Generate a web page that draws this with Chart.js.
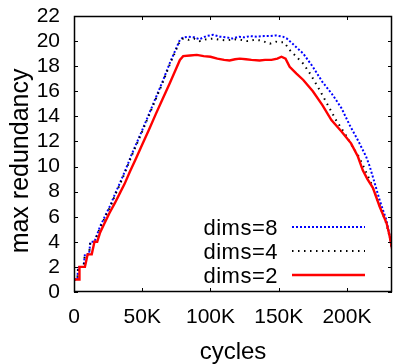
<!DOCTYPE html>
<html>
<head>
<meta charset="utf-8">
<script src="https://cdn.jsdelivr.net/npm/chart.js@4"></script>
<style>
  body { margin: 0; background: #fff; }
  canvas { display: block; }
</style>
</head>
<body>
<canvas id="redChart" width="394" height="364"></canvas>
<script>
// cycles in thousands, values = max redundancy
let dims8X = [0, 2.5, 3, 7, 8, 11, 12, 15, 19, 23, 27, 30, 33.7, 38, 42, 46, 50, 55, 60, 65, 70, 74, 77.6, 80, 84, 88, 92, 97, 102, 107, 112, 116, 121, 125, 129, 134, 139, 143.5, 148, 153, 156, 160, 164, 168, 175, 182, 189.6, 196, 202, 208, 214, 216.7, 220, 224, 229, 231, 233.5];
let dims8Y = [1, 1, 2, 2, 3, 3, 4, 4, 5.2, 6.1, 7.0, 7.8, 8.7, 9.8, 10.9, 11.9, 12.9, 14.2, 15.5, 16.8, 18.2, 19.2, 20.1, 20.3, 20.35, 20.3, 20.15, 20.4, 20.5, 20.35, 20.3, 20.2, 20.35, 20.3, 20.4, 20.35, 20.4, 20.4, 20.45, 20.35, 20.2, 19.8, 19.4, 19.0, 17.95, 16.75, 15.7, 14.65, 13.3, 12.1, 10.8, 10.0, 8.8, 7.3, 5.7, 4.6, 3.2];

let dims4X = [0, 2.5, 3, 7, 8, 11, 12, 15, 19, 23, 27, 30, 33.7, 38, 42, 46, 50, 55, 60, 65, 70, 74, 77.6, 80, 84, 88, 92, 97, 102, 107, 112, 117, 122, 127, 132, 137, 143.5, 148, 151, 154, 158, 163, 168, 173, 180, 186, 192, 198, 204, 208.6, 213, 218, 222.5, 226, 229, 231, 233.5];
let dims4Y = [1, 1, 2, 2, 3, 3, 4, 4, 5.1, 6.0, 6.9, 7.7, 8.6, 9.7, 10.8, 11.8, 12.8, 14.1, 15.4, 16.7, 18.1, 19.1, 20.0, 20.2, 20.1, 20.2, 20.0, 20.15, 20.2, 20.1, 20.05, 20.15, 20.1, 20.0, 20.1, 20.05, 19.8, 19.95, 19.9, 19.9, 19.3, 18.75, 18.2, 17.4, 16.1, 14.9, 13.7, 12.7, 11.6, 10.8, 9.8, 8.6, 7.3, 6.3, 5.4, 4.5, 3.2];

let dims2X = [0, 3.7, 4, 8, 10, 13, 15, 17, 19, 22, 26, 30, 33.7, 37, 41, 45, 50, 55, 60, 65, 70, 74, 77.6, 80, 85, 90, 95, 100, 105, 110, 114, 118, 121.5, 126, 130, 136, 140, 144.7, 149, 152, 155, 158, 163, 168, 175, 182, 188.6, 196, 203, 208, 211.6, 215, 219, 224, 229, 231, 233.5];
let dims2Y = [1, 1, 2, 2, 3, 3, 4, 4, 4.7, 5.4, 6.3, 7.1, 7.9, 8.6, 9.6, 10.55, 11.75, 12.95, 14.2, 15.4, 16.6, 17.6, 18.5, 18.8, 18.85, 18.9, 18.8, 18.75, 18.6, 18.5, 18.45, 18.55, 18.6, 18.55, 18.5, 18.45, 18.5, 18.5, 18.6, 18.75, 18.6, 17.95, 17.4, 16.9, 16.0, 14.9, 13.7, 12.8, 11.85, 10.8, 9.7, 9.0, 8.3, 6.8, 5.5, 4.6, 3.2];

let seriesNames = ["dims=8", "dims=4", "dims=2"];
let yTicks = [0, 2, 4, 6, 8, 10, 12, 14, 16, 18, 20, 22];
let xTicks = [0, 50, 100, 150, 200];

const FONT = "'Liberation Sans', Arial, sans-serif";

function toPoints(xs, ys) {
    return xs.map((x, i) => ({ x: x * 1000, y: ys[i] }));
}

// gnuplot-like frame with inward ticks
const framePlugin = {
    id: "frame",
    afterDatasetsDraw(chart) {
        let ctx = chart.ctx;
        let a = chart.chartArea;
        let xs = chart.scales.x, ys = chart.scales.y;
        ctx.save();
        ctx.strokeStyle = "#000";
        ctx.lineWidth = 1;
        ctx.beginPath();
        xs.ticks.forEach((t, i) => {
            let px = Math.round(xs.getPixelForTick(i)) + 0.5;
            ctx.moveTo(px, a.bottom); ctx.lineTo(px, a.bottom - 4);
            ctx.moveTo(px, a.top); ctx.lineTo(px, a.top + 4);
        });
        ys.ticks.forEach((t, i) => {
            let py = Math.round(ys.getPixelForTick(i)) + 0.5;
            ctx.moveTo(a.left, py); ctx.lineTo(a.left + 4, py);
            ctx.moveTo(a.right, py); ctx.lineTo(a.right - 4, py);
        });
        ctx.stroke();
        ctx.lineWidth = 1.5;
        ctx.strokeRect(a.left + 0.5, a.top + 0.5, a.right - a.left - 1, a.bottom - a.top - 1);
        ctx.restore();
    }
};

// key in the lower right, text then line sample
const keyPlugin = {
    id: "key",
    afterDatasetsDraw(chart) {
        let ctx = chart.ctx;
        let a = chart.chartArea;
        ctx.save();
        ctx.font = "22px " + FONT;
        ctx.letterSpacing = "0.5px";
        ctx.textAlign = "right";
        ctx.textBaseline = "alphabetic";
        ctx.fillStyle = "#000";
        chart.data.datasets.forEach((ds, i) => {
            let y = a.bottom - 65 + i * 24;
            ctx.fillText(ds.label, a.left + 204, y + 7.5);
            ctx.strokeStyle = ds.borderColor;
            ctx.lineWidth = ds.borderWidth;
            ctx.setLineDash(ds.borderDash || []);
            ctx.beginPath();
            ctx.moveTo(a.left + 218, y);
            ctx.lineTo(a.left + 291, y);
            ctx.stroke();
        });
        ctx.restore();
    }
};

let ctx = document.getElementById("redChart").getContext("2d");
let redChart = new Chart(ctx, {
    type: "line",
    data: {
        datasets: [
            {
                label: seriesNames[0],
                data: toPoints(dims8X, dims8Y),
                borderColor: "#0000ff",
                borderWidth: 2,
                borderDash: [2, 2],
                order: 3
            },
            {
                label: seriesNames[1],
                data: toPoints(dims4X, dims4Y),
                borderColor: "#000000",
                borderWidth: 2,
                borderDash: [1.5, 4.5],
                order: 2
            },
            {
                label: seriesNames[2],
                data: toPoints(dims2X, dims2Y),
                borderColor: "#ff0000",
                borderWidth: 2.4,
                order: 1
            }
        ]
    },
    options: {
        responsive: false,
        animation: false,
        layout: { padding: { top: 16, right: 2, left: 0, bottom: 0 } },
        elements: {
            point: { radius: 0 },
            line: { tension: 0, fill: false }
        },
        plugins: {
            legend: { display: false },
            tooltip: { enabled: false }
        },
        scales: {
            x: {
                type: "linear",
                min: 0,
                max: 233000,
                afterFit(scale) { scale.height = 72; scale.paddingLeft = 0; scale.paddingRight = 0; },
                afterBuildTicks(scale) {
                    scale.ticks = xTicks.map(v => ({ value: v * 1000 }));
                },
                grid: { drawOnChartArea: false, drawTicks: false },
                border: { display: false },
                ticks: {
                    padding: 13,
                    autoSkip: false,
                    color: "#000",
                    font: { family: FONT, size: 21 },
                    maxRotation: 0,
                    callback: v => v === 0 ? "0" : (v / 1000) + "K"
                },
                title: {
                    display: true,
                    text: "cycles",
                    color: "#000",
                    font: { family: FONT, size: 24, lineHeight: 1 },
                    padding: 0
                }
            },
            y: {
                min: 0,
                max: 22,
                afterFit(scale) { scale.width = 74; scale.paddingTop = 0; scale.paddingBottom = 0; },
                afterBuildTicks(scale) {
                    scale.ticks = yTicks.map(v => ({ value: v }));
                },
                grid: { drawOnChartArea: false, drawTicks: false },
                border: { display: false },
                ticks: {
                    padding: 14,
                    autoSkip: false,
                    color: "#000",
                    font: { family: FONT, size: 21 }
                },
                title: {
                    display: true,
                    text: "max redundancy\u00a0\u00a0",
                    color: "#000",
                    font: { family: FONT, size: 25, lineHeight: 1 },
                    padding: { top: 9, bottom: 0 }
                }
            }
        }
    },
    plugins: [framePlugin, keyPlugin]
});
</script>
</body>
</html>
